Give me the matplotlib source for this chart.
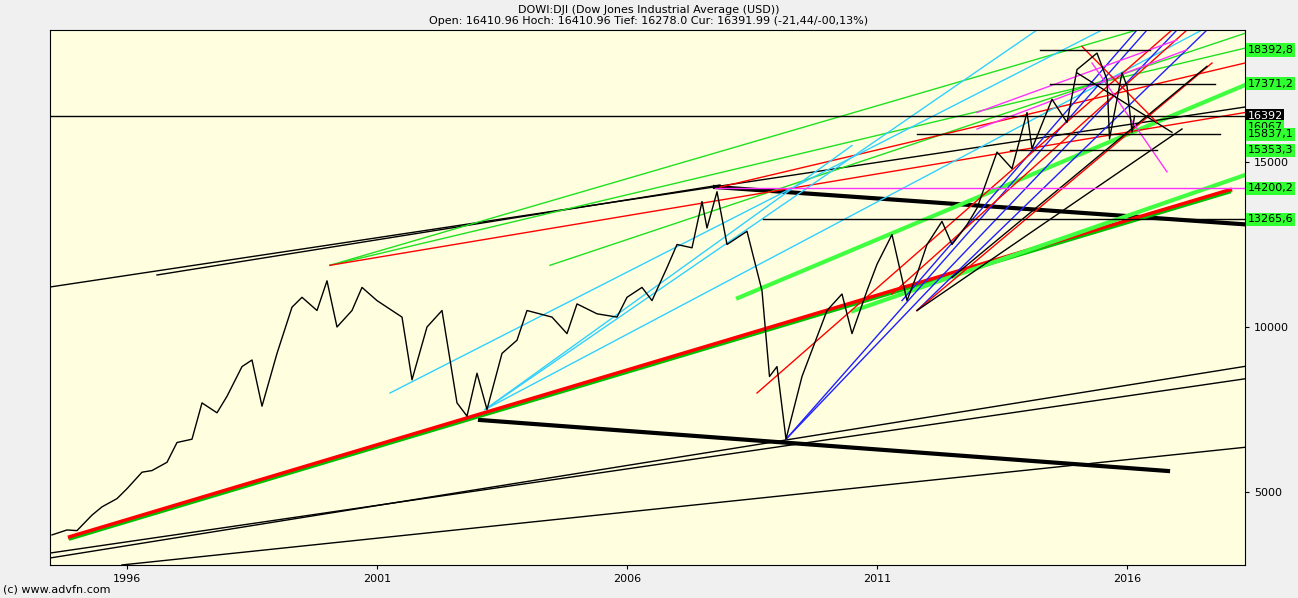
import matplotlib
matplotlib.use("Agg")
import matplotlib.pyplot as plt

# price path (approx)
years = [1994.5,1994.8,1995.0,1995.3,1995.5,1995.8,1996.0,1996.3,1996.5,1996.8,1997.0,1997.3,1997.5,1997.8,1998.0,1998.3,1998.5,1998.7,1999.0,1999.3,1999.5,1999.8,2000.0,2000.2,2000.5,2000.7,2001.0,2001.3,2001.5,2001.7,2002.0,2002.3,2002.6,2002.8,2003.0,2003.2,2003.5,2003.8,2004.0,2004.5,2004.8,2005.0,2005.4,2005.8,2006.0,2006.3,2006.5,2006.8,2007.0,2007.3,2007.5,2007.6,2007.8,2008.0,2008.4,2008.7,2008.85,2009.0,2009.18,2009.5,2009.8,2010.0,2010.3,2010.5,2010.8,2011.0,2011.3,2011.6,2011.8,2012.0,2012.3,2012.5,2012.8,2013.0,2013.4,2013.7,2014.0,2014.1,2014.5,2014.8,2015.0,2015.4,2015.6,2015.65,2015.9,2016.0,2016.1,2016.15]
prices = [3700,3850,3830,4300,4550,4800,5100,5600,5650,5900,6500,6600,7700,7400,7900,8800,9000,7600,9200,10600,10900,10500,11400,10000,10500,11200,10800,10500,10300,8400,10000,10500,7700,7300,8600,7500,9200,9600,10500,10300,9800,10700,10400,10300,10900,11200,10800,11800,12500,12400,13800,13000,14100,12500,12900,11100,8500,8800,6600,8500,9700,10500,11000,9800,11100,11900,12800,10800,11600,12500,13200,12500,13100,13600,15300,14800,16500,15400,16900,16200,17800,18300,17500,15700,17700,17300,15900,16392]

# trendlines: (x0, y0, x1, y1, color, width)
lines = [
 (2003.06,7182,2016.82,5636,'black',3),
 (2007.76,14242,2019.4,12999,'black',3),
 (1994.86,3636,2018.06,14151,'red',3),
 (1994.86,3560,2018.06,14075,'#00c000',1.5),
 (2010.52,10485,2018.36,14606,'#40ff40',3),
 (2008.22,10879,2018.36,17333,'#40ff40',3),
 (1994.46,11212,2018.36,16666,'black',1),
 (1996.6,11576,2007.86,14303,'black',1),
 (1994.46,3000,2019.4,9060,'black',1),
 (1994.46,3150,2019.4,8660,'black',1),
 (1995.9,2790,2019.4,6520,'black',1),
 (2000.06,11870,2018.36,18450,'#20e020',1),
 (2000.06,11870,2016.2,19000,'#20e020',1),
 (2004.46,11870,2018.36,18900,'#20e020',1),
 (2000.06,11870,2018.36,16500,'red',1),
 (2007.86,14240,2018.36,18000,'red',1),
 (2001.26,8000,2015.5,19000,'#30d0ff',1),
 (2003.16,7500,2017.5,19000,'#30d0ff',1),
 (2003.16,7500,2014.2,19000,'#30d0ff',1),
 (2003.16,7500,2010.5,15500,'#30d0ff',1),
 (2009.18,6600,2016.4,19000,'#2020ff',1),
 (2009.18,6600,2017.0,19000,'#2020ff',1),
 (2011.8,10500,2017.6,19000,'#2020ff',1),
 (2011.5,10800,2016.2,19000,'#2020ff',1),
 (2008.6,8000,2016.9,19000,'red',1),
 (2011.3,11000,2017.2,19000,'red',1),
 (2011.8,10500,2017.7,18000,'red',1),
 (2011.8,10500,2017.1,16000,'black',1),
 (2012.5,11500,2017.6,17900,'black',1),
 (2013.0,16500,2017.0,18700,'#ff30ff',1),
 (2013.0,16000,2017.2,18400,'#ff30ff',1),
 (2015.3,18000,2016.8,14700,'#ff30ff',1),
 (2015.0,17700,2016.9,15900,'black',1),
 (2015.1,18500,2016.6,16200,'red',1),
]
# horizontal levels: (value, x0, x1, color)
hlines = [(16392,1994.46,2018.36,'black'),(14200.2,2007.76,2018.36,'#ff30ff'),
          (13265.6,2008.72,2018.36,'black'),(15353.3,2013.66,2016.6,'black'),
          (15837.1,2011.8,2017.86,'black'),(18392.8,2014.26,2016.46,'black'),
          (17371.2,2014.46,2017.76,'black')]
right_labels = [(18392.8,'18392,8','#30ff30'),(17371.2,'17371,2','#30ff30'),
                (16392,'16392','black'),(16067,'16067','#30ff30'),
                (15837.1,'15837,1','#30ff30'),(15353.3,'15353,3','#30ff30'),
                (14200.2,'14200,2','#30ff30'),(13265.6,'13265,6','#30ff30')]

fig = plt.figure(figsize=(12.98,5.98), dpi=100, facecolor='#f0f0f0')
ax = fig.add_axes([50/1298, 1-565/598, 1195/1298, 535/598])
ax.set_facecolor('#ffffe0')
ax.set_xlim(1994.46, 2018.36)
ax.set_ylim(2788, 19000)
for x0,y0,x1,y1,c,w in lines:
    ax.plot([x0,x1],[y0,y1],color=c,lw=w)
for v,x0,x1,c in hlines:
    ax.plot([x0,x1],[v,v],color=c,lw=1)
ax.plot(years, prices, color='black', lw=1)
ax.yaxis.tick_right()
ax.set_yticks([5000,10000,15000])
ax.set_xticks([1996,2001,2006,2011,2016])
ax.tick_params(labelsize=8, length=3)
for s in ax.spines.values(): s.set_linewidth(0.8)
for v,t,c in right_labels:
    ax.text(1.002, v, t, transform=ax.get_yaxis_transform(), fontsize=8, va='center',
            color='white' if c=='black' else 'black',
            bbox=dict(boxstyle='square,pad=0.15', fc=c, ec='none'))
fig.text(0.5, 1-10/598, 'DOWI:DJI (Dow Jones Industrial Average (USD))', ha='center', va='center', fontsize=8)
fig.text(0.5, 1-21/598, 'Open: 16410.96 Hoch: 16410.96 Tief: 16278.0 Cur: 16391.99 (-21,44/-00,13%)', ha='center', va='center', fontsize=8)
fig.text(3/1298, 1-590/598, '(c) www.advfn.com', fontsize=8, va='center')
fig.savefig('out.png', dpi=100, facecolor=fig.get_facecolor())
